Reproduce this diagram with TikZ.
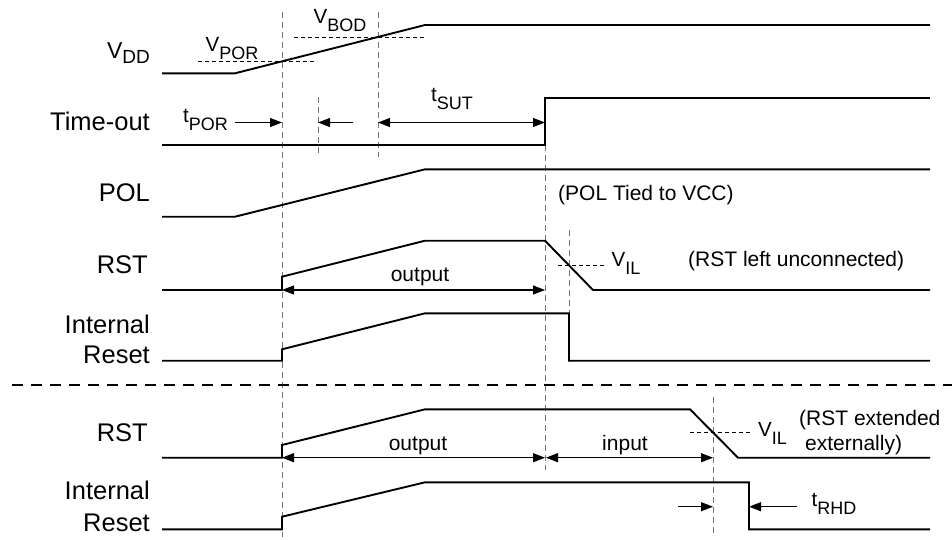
\documentclass[tikz,border=0pt]{standalone}
\usepackage{fontspec}
\setmainfont{Liberation Sans}
\usetikzlibrary{arrows.meta}
\newcommand{\symsub}[2]{{\fontsize{20.5}{21}\selectfont #1}\raisebox{-8pt}{\fontsize{18}{19}\selectfont #2}}
\begin{document}
\begin{tikzpicture}[x=1pt,y=-1pt,
  sig/.style={line width=1.9pt,line join=miter},
  dimboth/.style={line width=1.1pt,{Triangle[length=12pt,width=9pt]}-{Triangle[length=12pt,width=9pt]}},
  dimone/.style={line width=1.1pt,-{Triangle[length=12pt,width=9pt]}},
  guide/.style={black!55,line width=0.9pt,dash pattern=on 6pt off 4pt},
  level/.style={line width=0.8pt,dash pattern=on 4pt off 3pt},
  sepline/.style={line width=2.6pt,dash pattern=on 11pt off 8pt},
  lab/.style={inner sep=0pt,font=\fontsize{25.5}{30}\selectfont},
  note/.style={inner sep=0pt,font=\fontsize{21}{25}\selectfont},
  sym/.style={inner sep=0pt,anchor=base west}]
\useasboundingbox (0,0) rectangle (952,539);

% guide lines
\draw[guide] (282,12) -- (282,537);
\draw[guide] (318,97) -- (318,157);
\draw[guide] (378,12) -- (378,157);
\draw[guide] (545,145) -- (545,470);
\draw[guide] (569,230) -- (569,362);
\draw[guide] (713,397) -- (713,537);

% level lines
\draw[level] (198,61.3) -- (317,61.3);
\draw[level] (294,37.3) -- (426,37.3);
\draw[level] (558,265.7) -- (607,265.7);
\draw[level] (690,432.7) -- (750,432.7);

% separator
\draw[sepline] (12,385) -- (952,385);

% signals
\draw[sig] (162,73.3) -- (235,73.3) -- (425,25) -- (930,25);
\draw[sig] (162,145) -- (545,145) -- (545,97.7) -- (930,97.7);
\draw[sig] (162,216.7) -- (235,216.7) -- (425,169.3) -- (930,169.3);
\draw[sig] (162,290) -- (282,290) -- (282,276.7) -- (425,240.7) -- (545,240.7) -- (593,290) -- (930,290);
\draw[sig] (162,360.7) -- (282,360.7) -- (282,349.3) -- (425,313.3) -- (569,313.3) -- (569,360.7) -- (930,360.7);
\draw[sig] (162,457.7) -- (282,457.7) -- (282,445) -- (425,409.3) -- (690,409.3) -- (738,457.7) -- (930,457.7);
\draw[sig] (162,529.3) -- (282,529.3) -- (282,516.7) -- (425,482.3) -- (749,482.3) -- (749,529.3) -- (930,529.3);

% dimension coordinates
\coordinate (porA) at (235,122.5);
\coordinate (porB) at (282,122.5);
\coordinate (bodA) at (353,122.5);
\coordinate (bodB) at (318,122.5);
\coordinate (sutA) at (378,122.5);
\coordinate (sutB) at (545,122.5);
\coordinate (o1A) at (282,290);
\coordinate (o1B) at (545,290);
\coordinate (o2A) at (282,457.7);
\coordinate (o2B) at (545,457.7);
\coordinate (inA) at (546,457.7);
\coordinate (inB) at (713,457.7);
\coordinate (rhdA) at (678,506.7);
\coordinate (rhdB) at (713,506.7);
\coordinate (rhdC) at (797,506.7);
\coordinate (rhdD) at (749,506.7);

\draw[dimone] (porA) -- (porB);
\draw[dimone] (bodA) -- (bodB);
\draw[dimboth] (sutA) -- (sutB);
\draw[dimboth] (o1A) -- (o1B);
\draw[dimboth] (o2A) -- (o2B);
\draw[dimboth] (inA) -- (inB);
\draw[dimone] (rhdA) -- (rhdB);
\draw[dimone] (rhdC) -- (rhdD);

% left labels
\node[inner sep=0pt,anchor=base east] (lvdd) at (150,58.3) {{\fontsize{23}{24}\selectfont V}\raisebox{-5pt}{\fontsize{19}{20}\selectfont DD}};
\node[lab,anchor=base east] (ltime) at (150,130) {Time-out};
\node[lab,anchor=base east] (lpol) at (150,201.7) {POL};
\node[lab,anchor=base east] (lrst1) at (148,273.3) {RST};
\node[lab,anchor=base east] (lint1) at (150,333.3) {Internal};
\node[lab,anchor=base east] (lres1) at (150,363.3) {Reset};
\node[lab,anchor=base east] (lrst2) at (148,441.7) {RST};
\node[lab,anchor=base east] (lint2) at (150,499.3) {Internal};
\node[lab,anchor=base east] (lres2) at (150,531.7) {Reset};

% symbol labels
\node[sym] (vpor) at (205.5,51.5) {\symsub{V}{POR}};
\node[sym] (vbod) at (313.5,23.3) {\symsub{V}{BOD}};
\node[sym] (tpor) at (183,122.3) {\symsub{t}{POR}};
\node[sym] (tsut) at (431,101.7) {\symsub{t}{SUT}};
\node[sym] (vil1) at (611.5,266.7) {\symsub{V}{IL}};
\node[sym] (vil2) at (758,436) {\symsub{V}{IL}};
\node[sym] (trhd) at (811.5,506.7) {\symsub{t}{RHD}};

% notes
\node[note,anchor=base west] (npol) at (558,200) {(POL Tied to VCC)};
\node[note,anchor=base west] (nrst1) at (688,266.7) {(RST left unconnected)};
\node[note,anchor=base west] (nrst2a) at (799,425) {(RST extended};
\node[note,anchor=base west] (nrst2b) at (805,450) {externally)};
\node[note,anchor=base] (out1) at (420,281.5) {output};
\node[note,anchor=base] (out2) at (418,450.7) {output};
\node[note,anchor=base] (inp) at (625,450.7) {input};
\end{tikzpicture}
\end{document}
